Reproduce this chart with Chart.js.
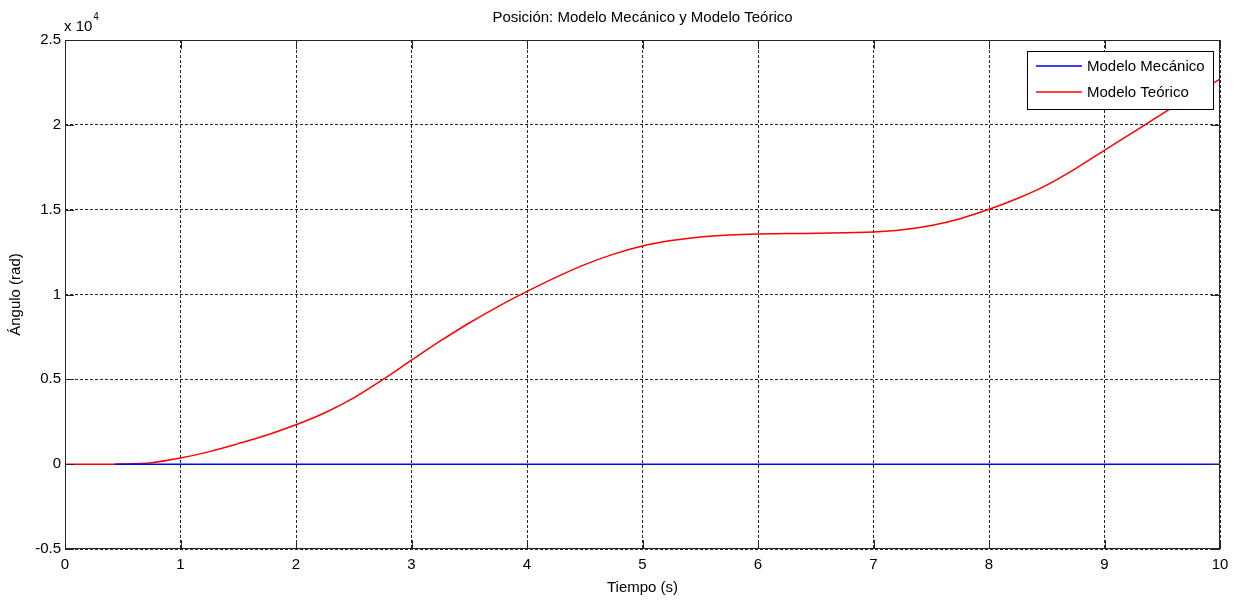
<!DOCTYPE html>
<html lang="es">
<head>
<meta charset="utf-8">
<title>Posición: Modelo Mecánico y Modelo Teórico</title>
<script src="https://cdn.jsdelivr.net/npm/chart.js"></script>
<style>
  html, body { margin: 0; padding: 0; background: #fff; }
  #wrap { width: 1238px; height: 601px; }
</style>
</head>
<body>
<div id="wrap"><canvas id="chartPosicion" width="1238" height="601"></canvas></div>
<script>
// Tiempo (s) y ángulo (rad) de cada modelo
const tiempoTeorico = [0, 0.25, 0.43, 0.5, 0.75, 1, 1.25, 1.5, 1.75, 2, 2.25, 2.5, 2.75, 3, 3.25, 3.5, 3.75, 4,
  4.25, 4.5, 4.75, 5, 5.25, 5.5, 5.75, 6, 6.5, 7, 7.25, 7.5, 7.75, 8, 8.25, 8.5, 8.75, 9, 9.25, 9.5, 9.75, 10];
const anguloTeorico = [0, 0, 0, 5, 90, 360, 740, 1210, 1720, 2320, 3030, 3910, 4980, 6130, 7260, 8320, 9290, 10180,
  11010, 11760, 12380, 12860, 13180, 13390, 13510, 13570, 13610, 13680, 13810, 14070, 14470, 15020, 15670, 16450,
  17420, 18500, 19570, 20650, 21690, 22700];

const tiempoMecanico = [0.43, 10];
const anguloMecanico = [0, 0];

const etiquetas = ['Modelo Mecánico', 'Modelo Teórico'];
const colores = ['#0000ff', '#ff0000'];

const FUENTE = '"Liberation Sans", Arial, Helvetica, sans-serif';

function toPoints(xs, ys) {
  return xs.map((x, i) => ({ x: x, y: ys[i] }));
}

// Título, multiplicador del eje, caja, marcas interiores y leyenda al estilo MATLAB
const matlabDecor = {
  id: 'matlabDecor',
  afterDraw(chart) {
    const { ctx, chartArea: a, scales } = chart;
    ctx.save();

    // caja de ejes
    ctx.strokeStyle = '#262626';
    ctx.lineWidth = 1;
    ctx.setLineDash([]);
    ctx.strokeRect(a.left + 0.5, a.top + 0.5, a.right - a.left - 1, a.bottom - a.top - 1);

    // marcas de graduación hacia dentro
    const tl = 9;
    ctx.beginPath();
    scales.x.ticks.forEach(t => {
      const px = Math.round(scales.x.getPixelForValue(t.value)) + 0.5;
      ctx.moveTo(px, a.bottom); ctx.lineTo(px, a.bottom - tl);
      ctx.moveTo(px, a.top); ctx.lineTo(px, a.top + tl);
    });
    scales.y.ticks.forEach(t => {
      const py = Math.round(scales.y.getPixelForValue(t.value)) + 0.5;
      ctx.moveTo(a.left, py); ctx.lineTo(a.left + tl, py);
      ctx.moveTo(a.right, py); ctx.lineTo(a.right - tl, py);
    });
    ctx.stroke();

    // título
    ctx.fillStyle = '#000';
    ctx.font = '15px ' + FUENTE;
    ctx.textAlign = 'center';
    ctx.textBaseline = 'middle';
    ctx.fillText('Posición: Modelo Mecánico y Modelo Teórico', (a.left + a.right) / 2, 18);

    // x 10^4
    ctx.textAlign = 'left';
    ctx.textBaseline = 'alphabetic';
    ctx.font = '15px ' + FUENTE;
    ctx.fillText('x 10', a.left - 1, 31);
    const w = ctx.measureText('x 10').width;
    ctx.font = '10px ' + FUENTE;
    ctx.fillText('4', a.left - 1 + w + 1, 20);

    // leyenda
    const lx = 1027, ly = 51, lw = 186, lh = 58;
    ctx.fillStyle = '#fff';
    ctx.fillRect(lx, ly, lw, lh);
    ctx.strokeStyle = '#000';
    ctx.strokeRect(lx + 0.5, ly + 0.5, lw, lh);
    ctx.font = '15px ' + FUENTE;
    ctx.textBaseline = 'middle';
    chart.data.datasets.forEach((ds, i) => {
      const yy = ly + 15 + i * 26;
      ctx.strokeStyle = ds.borderColor;
      ctx.lineWidth = 1.5;
      ctx.beginPath();
      ctx.moveTo(lx + 9, yy); ctx.lineTo(lx + 55, yy);
      ctx.stroke();
      ctx.fillStyle = '#000';
      ctx.fillText(ds.label, lx + 60, yy + 1);
    });

    ctx.restore();
  }
};

new Chart(document.getElementById('chartPosicion'), {
  type: 'line',
  data: {
    datasets: [
      {
        label: etiquetas[0],
        data: toPoints(tiempoMecanico, anguloMecanico),
        borderColor: colores[0],
        borderWidth: 1.5,
        pointRadius: 0
      },
      {
        label: etiquetas[1],
        data: toPoints(tiempoTeorico, anguloTeorico),
        borderColor: colores[1],
        borderWidth: 1.5,
        pointRadius: 0,
        cubicInterpolationMode: 'monotone'
      }
    ]
  },
  options: {
    responsive: false,
    animation: false,
    layout: { padding: { top: 40, right: 18, left: 0, bottom: 0 } },
    plugins: {
      legend: { display: false },
      title: { display: false },
      tooltip: { enabled: false }
    },
    scales: {
      x: {
        type: 'linear',
        min: 0,
        max: 10,
        afterFit: scale => { scale.height = 52; },
        ticks: {
          stepSize: 1,
          color: '#000',
          padding: 7,
          maxRotation: 0,
          font: { family: FUENTE, size: 15 }
        },
        grid: { color: 'rgba(0,0,0,0.85)', lineWidth: 1, drawTicks: false },
        border: { display: false, dash: [3, 2] },
        title: {
          display: true,
          text: 'Tiempo (s)',
          color: '#000',
          font: { family: FUENTE, size: 15 },
          padding: { top: 0, bottom: 4 }
        }
      },
      y: {
        min: -5000,
        max: 25000,
        afterFit: scale => { scale.width = 65; },
        ticks: {
          stepSize: 5000,
          color: '#000',
          padding: 4,
          font: { family: FUENTE, size: 15 },
          callback: v => String(v / 10000)
        },
        grid: { color: 'rgba(0,0,0,0.85)', lineWidth: 1, drawTicks: false },
        border: { display: false, dash: [3, 2] },
        title: {
          display: true,
          text: 'Ángulo (rad)',
          color: '#000',
          font: { family: FUENTE, size: 15 },
          padding: { top: 7, bottom: 0 }
        }
      }
    }
  },
  plugins: [matlabDecor]
});
</script>
</body>
</html>
